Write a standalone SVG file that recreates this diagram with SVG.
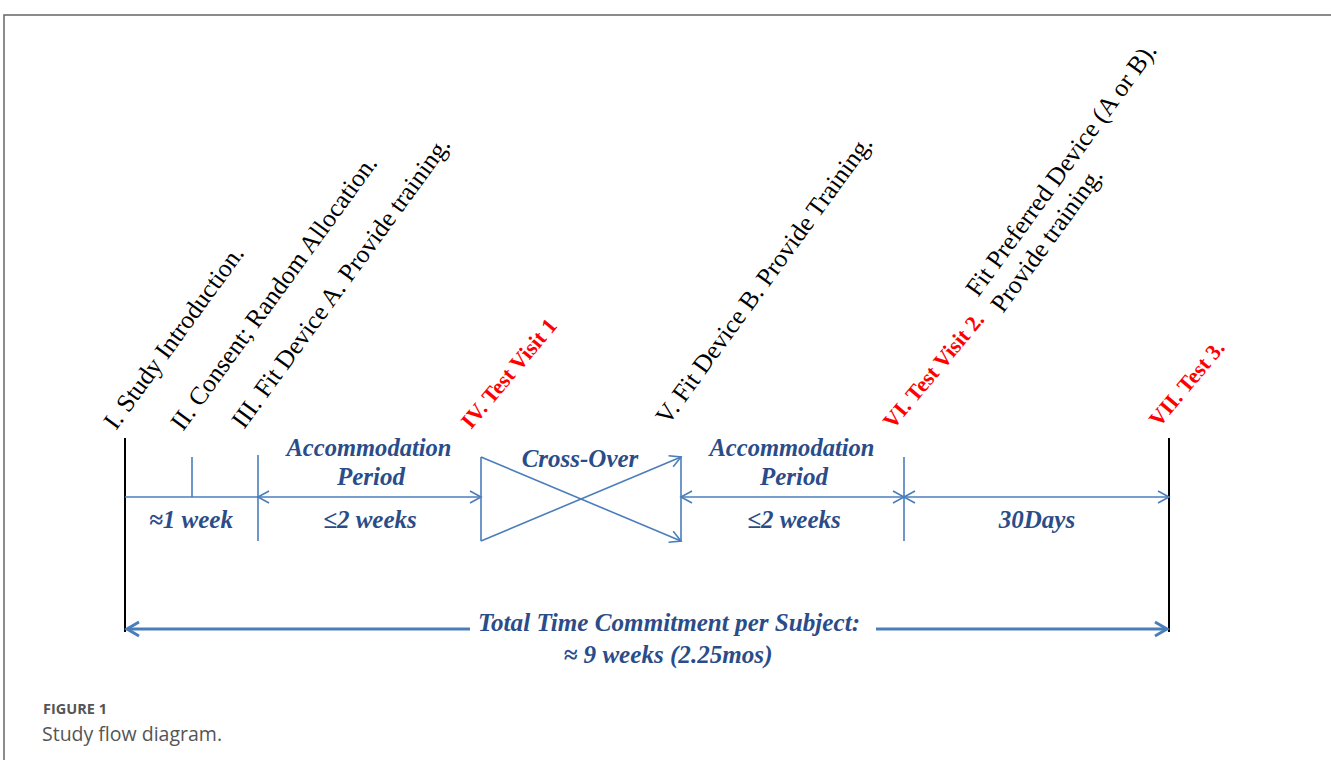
<svg xmlns="http://www.w3.org/2000/svg" width="1331" height="760" viewBox="0 0 1331 760">
<style>
.blk{font-family:"Liberation Serif","Times New Roman",serif;font-size:25.5px;fill:#000}
.red{font-family:"Liberation Serif","Times New Roman",serif;font-size:22px;font-weight:bold;fill:#ff0000}
.blu{font-family:"Liberation Serif","Times New Roman",serif;font-size:25px;font-weight:bold;font-style:italic;fill:#2a4d8a;text-anchor:middle}
.ln{stroke:#4a7ebb;stroke-width:1.6;fill:none}
.bk{stroke:#000;stroke-width:2;fill:none}
.cap1{font-family:"Open Sans","Noto Sans",sans-serif;font-size:14.5px;font-weight:bold;fill:#555}
.cap2{font-family:"Open Sans","Noto Sans",sans-serif;font-size:19.5px;fill:#555}
</style>
<defs>
<marker id="ah" markerUnits="userSpaceOnUse" markerWidth="14" markerHeight="14" refX="11" refY="6" orient="auto-start-reverse" overflow="visible">
<path d="M0,0 L11,6 L0,12" fill="none" stroke="#4a7ebb" stroke-width="1.6"/>
</marker>
<marker id="ahb" markerUnits="userSpaceOnUse" markerWidth="16" markerHeight="16" refX="12" refY="7" orient="auto-start-reverse" overflow="visible">
<path d="M0,0 L12,7 L0,14" fill="none" stroke="#4a7ebb" stroke-width="3"/>
</marker>
</defs>
<rect width="1331" height="760" fill="#fff"/>
<g id="frame">
<path d="M4,760 V15 H1331" fill="none" stroke="#666" stroke-width="1.5"/>
</g>
<g id="labels">
<text class="blk" transform="translate(116,431) rotate(-54)">I. Study Introduction.</text>
<text class="blk" transform="translate(183,432) rotate(-54)">II. Consent; Random Allocation.</text>
<text class="blk" transform="translate(244,430) rotate(-54)">III. Fit Device A. Provide training.</text>
<text class="red" transform="translate(471,430) rotate(-50)">IV. Test Visit 1</text>
<text class="blk" transform="translate(668,426) rotate(-54)">V. Fit Device B. Provide Training.</text>
<text class="red" transform="translate(893,430) rotate(-50)">VI. Test Visit 2.</text>
<text class="blk" transform="translate(978,298) rotate(-54)">Fit Preferred Device (A or B).</text>
<text class="blk" transform="translate(1003,314) rotate(-54)">Provide training.</text>
<text class="red" transform="translate(1159,428) rotate(-50)">VII. Test 3.</text>
</g>
<g id="connectors">
<line class="bk" x1="125" y1="438" x2="125" y2="632"/>
<line class="bk" x1="1169" y1="438" x2="1169" y2="632"/>
<line class="ln" x1="192" y1="457" x2="192" y2="497"/>
<line class="ln" x1="258" y1="455" x2="258" y2="541"/>
<line class="ln" x1="125" y1="497" x2="258" y2="497"/>
<line class="ln" x1="258" y1="497" x2="481" y2="497" marker-start="url(#ah)" marker-end="url(#ah)"/>
<line class="ln" x1="481" y1="457" x2="481" y2="541"/>
<line class="ln" x1="481" y1="457" x2="681" y2="541" marker-end="url(#ah)"/>
<line class="ln" x1="481" y1="541" x2="681" y2="457" marker-end="url(#ah)"/>
<line class="ln" x1="681" y1="457" x2="681" y2="541"/>
<line class="ln" x1="681" y1="497" x2="904" y2="497" marker-start="url(#ah)" marker-end="url(#ah)"/>
<line class="ln" x1="904" y1="457" x2="904" y2="541"/>
<line class="ln" x1="904" y1="497" x2="1169" y2="497" marker-start="url(#ah)" marker-end="url(#ah)"/>
<line x1="127" y1="629" x2="470" y2="629" stroke="#4a7ebb" stroke-width="3" marker-start="url(#ahb)"/>
<line x1="876" y1="629" x2="1167" y2="629" stroke="#4a7ebb" stroke-width="3" marker-end="url(#ahb)"/>
</g>
<g id="periods">
<text class="blu" x="369" y="456" textLength="165" lengthAdjust="spacingAndGlyphs">Accommodation</text>
<text class="blu" x="371" y="485">Period</text>
<text class="blu" x="191" y="528">≈1 week</text>
<text class="blu" x="370" y="528">≤2 weeks</text>
<text class="blu" x="580" y="467">Cross-Over</text>
<text class="blu" x="792" y="456" textLength="165" lengthAdjust="spacingAndGlyphs">Accommodation</text>
<text class="blu" x="794" y="485">Period</text>
<text class="blu" x="794" y="528">≤2 weeks</text>
<text class="blu" x="1037" y="528">30Days</text>
</g>
<g id="total">
<text class="blu" x="669" y="631" textLength="382" lengthAdjust="spacingAndGlyphs">Total Time Commitment per Subject:</text>
<text class="blu" x="668" y="663" textLength="209" lengthAdjust="spacingAndGlyphs">≈ 9 weeks (2.25mos)</text>
</g>
<g id="caption">
<text class="cap1" x="43" y="714">FIGURE 1</text>
<text class="cap2" x="42" y="741">Study flow diagram.</text>
</g>
</svg>
